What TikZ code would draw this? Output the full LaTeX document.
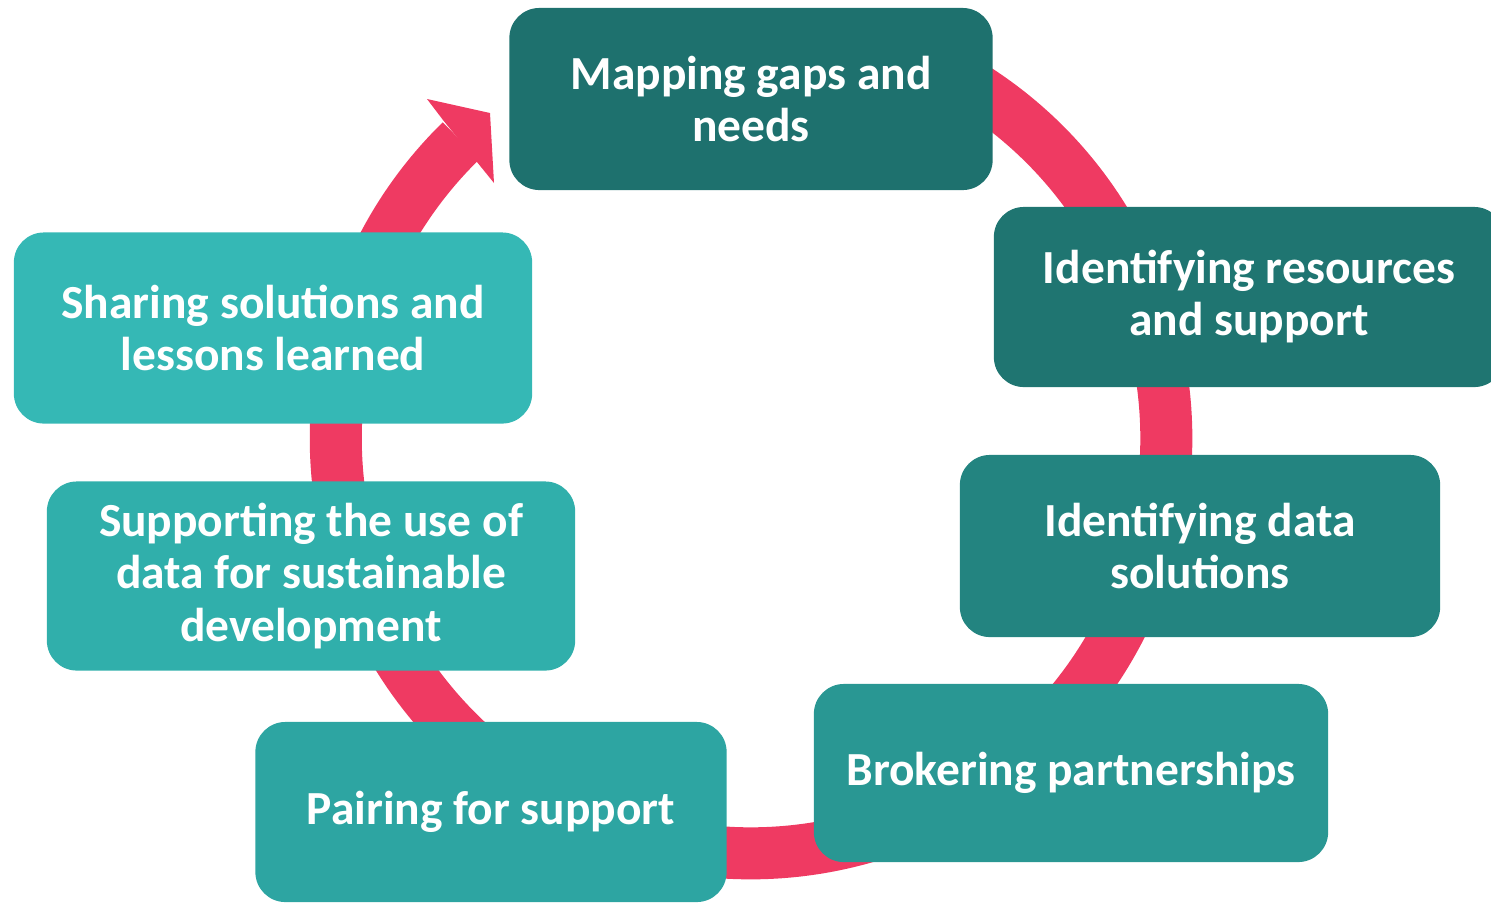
\documentclass[tikz,border=0pt]{standalone}
\usepackage{fontspec}
\setmainfont{Carlito}
\usepackage{tikz}
\usetikzlibrary{calc}
\definecolor{ringred}{HTML}{EF3A62}
\definecolor{tealA}{HTML}{1E716E}
\definecolor{tealB}{HTML}{1F7571}
\definecolor{tealC}{HTML}{238480}
\definecolor{tealD}{HTML}{299793}
\definecolor{tealE}{HTML}{2DA5A2}
\definecolor{tealF}{HTML}{30AFAB}
\definecolor{tealG}{HTML}{35B8B5}
\newcommand{\stagefont}{\bfseries\fontsize{13.5}{14.8}\selectfont}
\begin{document}
\begin{tikzpicture}[x=0.01cm,y=-0.01cm,
  stage/.style={rectangle,rounded corners=0.3cm,text=white,align=center,font=\stagefont,inner sep=0pt}]
\clip (0,0) rectangle (1491,902);
\useasboundingbox (0,0) rectangle (1491,902);
\coordinate (ctr) at (751,438);
\draw[ringred,line width=0.52cm] ($(ctr)+(62:4.15cm)$) arc[start angle=62,end angle=-225.7,radius=4.15cm];
\fill[ringred] (443,120) -- (427,99) -- (490,113) -- (494,183) -- (477,162) -- cycle;
\node[stage,fill=tealA,minimum width=4.83cm,minimum height=1.82cm] (map) at (751,99) {Mapping gaps and\\needs};
\node[stage,fill=tealB,minimum width=5.10cm,minimum height=1.80cm] (res) at (1249,297) {Identifying resources\\and support};
\node[stage,fill=tealC,minimum width=4.80cm,minimum height=1.82cm] (sol) at (1200,546) {Identifying data\\solutions};
\node[stage,fill=tealD,minimum width=5.14cm,minimum height=1.78cm] (brk) at (1071,773) {Brokering partnerships};
\node[stage,fill=tealE,minimum width=4.71cm,minimum height=1.80cm] (pair) at (491,812) {Pairing for support};
\node[stage,fill=tealF,minimum width=5.28cm,minimum height=1.89cm] (use) at (311,576) {Supporting the use of\\data for sustainable\\development};
\node[stage,fill=tealG,minimum width=5.18cm,minimum height=1.91cm] (share) at (273,328) {Sharing solutions and\\lessons learned};
\end{tikzpicture}
\end{document}
